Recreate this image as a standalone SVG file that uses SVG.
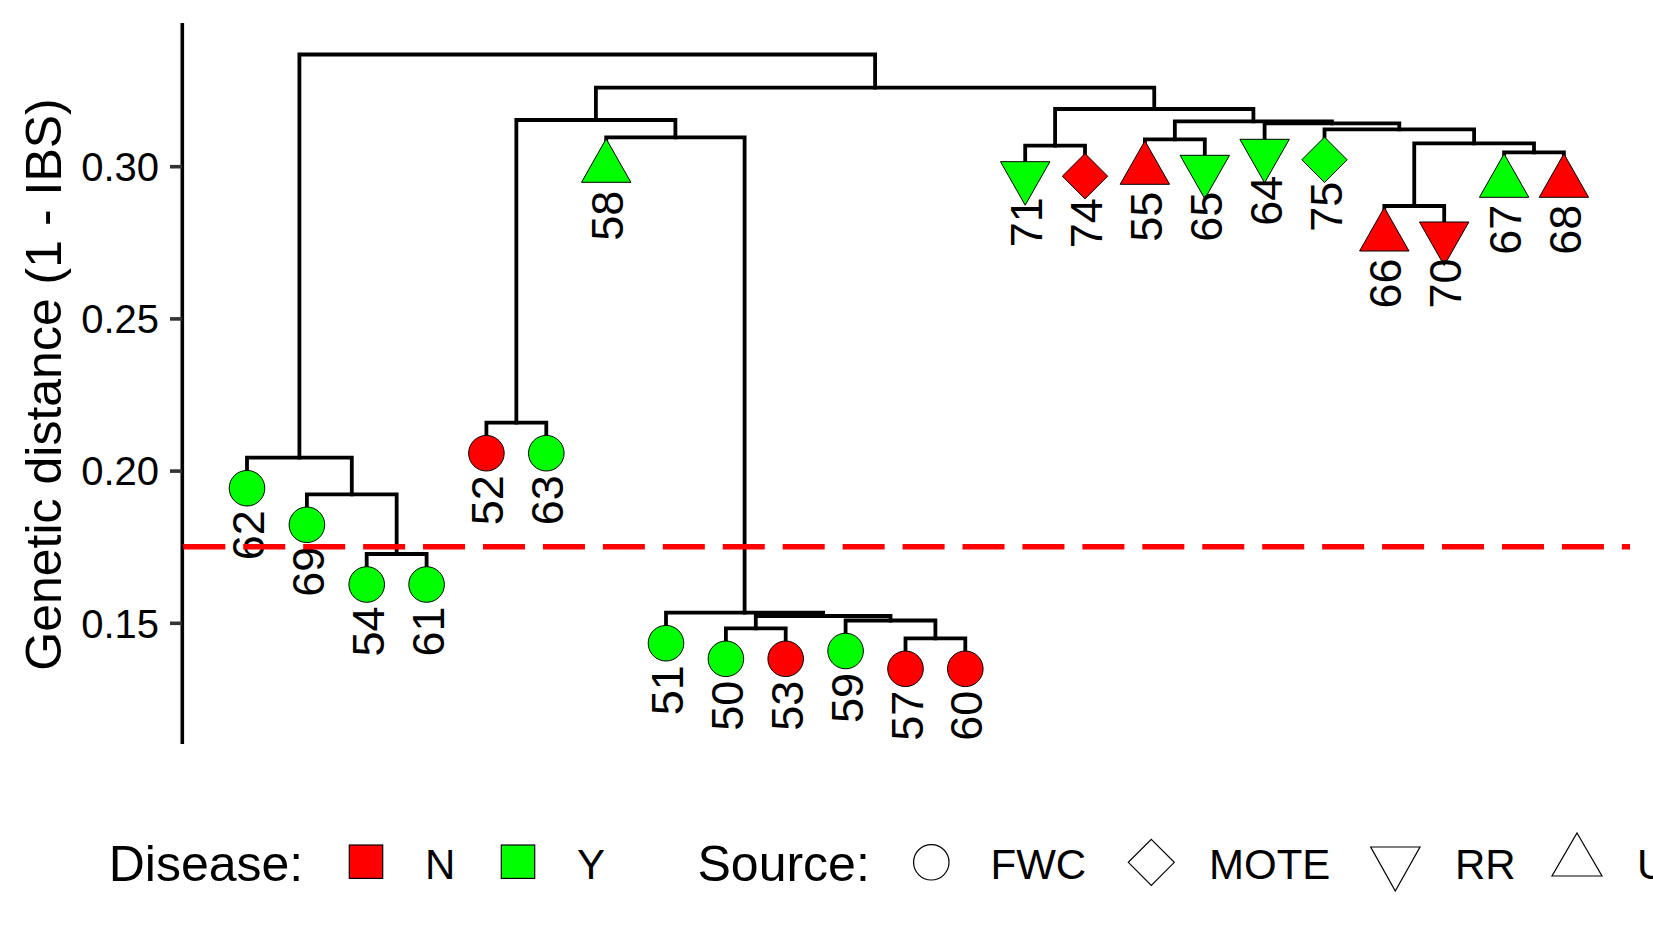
<svg xmlns="http://www.w3.org/2000/svg" xmlns:xlink="http://www.w3.org/1999/xlink" width="1653" height="944" viewBox="0 0 1653 944">
<style>
text{font-family:"Liberation Sans",Arial,sans-serif;fill:#000}
.br{fill:none;stroke:#000;stroke-width:3.8;stroke-linejoin:miter;stroke-linecap:square}
.lab{font-size:45px}
.tick{font-size:40px}
.ttl{font-size:50px}
.leg{font-size:42px}
.r{fill:#FF0000;stroke:#000;stroke-width:1}
.g{fill:#00FF00;stroke:#000;stroke-width:1}
.w{fill:#FFFFFF;stroke:#000;stroke-width:1.2}
</style>
<defs>
<circle id="c" r="17.8"/>
<polygon id="tu" points="0,-29 24.7,14.5 -24.7,14.5"/>
<polygon id="td" points="0,29 24.7,-14.5 -24.7,-14.5"/>
<polygon id="dm" points="0,-22.7 22.7,0 0,22.7 -22.7,0"/>
</defs>
<rect width="1653" height="944" fill="#fff"/>
<g id="axis">
<line x1="182.3" y1="23" x2="182.3" y2="744" stroke="#000" stroke-width="3.6"/>
<g stroke="#333" stroke-width="3.6">
<line x1="170" y1="166.7" x2="182" y2="166.7"/>
<line x1="170" y1="318.9" x2="182" y2="318.9"/>
<line x1="170" y1="471.1" x2="182" y2="471.1"/>
<line x1="170" y1="623.3" x2="182" y2="623.3"/>
</g>
<g class="tick" text-anchor="end">
<text class="tick" x="159" y="181">0.30</text>
<text class="tick" x="159" y="333.2">0.25</text>
<text class="tick" x="159" y="485.4">0.20</text>
<text class="tick" x="159" y="637.6">0.15</text>
</g>
<text class="ttl" text-anchor="middle" transform="translate(61,384.5) rotate(-90)">Genetic distance (1 - IBS)</text>
</g>
<g id="connectors" class="br">
<path d="M299.4 457.7 V54.5 H875.1 V87.7"/>
<path d="M247 488.2 V457.7 H351.8 V494.3"/>
<path d="M306.9 524.8 V494.3 H396.65 V554"/>
<path d="M366.7 584.5 V554 H426.6 V584.5"/>
<path d="M595.9 120 V87.7 H1154.25 V109"/>
<path d="M516.35 422.7 V120 H675.4 V137.3"/>
<path d="M486.4 453.2 V422.7 H546.3 V453.2"/>
<path d="M606.2 167.8 V137.3 H744.6 V612.7"/>
<path d="M666 643.2 V612.7 H823.15 V616"/>
<path d="M755.8 628.3 V616 H890.5 V620.5"/>
<path d="M725.9 658.8 V628.3 H785.7 V658.8"/>
<path d="M845.6 651 V620.5 H935.4 V638.3"/>
<path d="M905.5 668.8 V638.3 H965.3 V668.8"/>
<path d="M1055.1 145.7 V109 H1253.4 V121.3"/>
<path d="M1025.2 176.2 V145.7 H1085 V176.2"/>
<path d="M1174.85 139.3 V121.3 H1331.95 V123.3"/>
<path d="M1144.9 169.8 V139.3 H1204.8 V169.8"/>
<path d="M1264.6 153.8 V123.3 H1399.3 V129.3"/>
<path d="M1324.5 159.8 V129.3 H1474.1 V143.3"/>
<path d="M1414.25 206 V143.3 H1534 V152.3"/>
<path d="M1384.3 236.5 V206 H1444.2 V236.5"/>
<path d="M1504.1 182.8 V152.3 H1563.9 V182.8"/>
</g>
<g id="n62"><use xlink:href="#c" class="g" x="247" y="488.2"/><text class="lab" text-anchor="end" transform="translate(264,510.2) rotate(-90)">62</text></g>
<g id="n69"><use xlink:href="#c" class="g" x="306.9" y="524.8"/><text class="lab" text-anchor="end" transform="translate(323.9,546.8) rotate(-90)">69</text></g>
<g id="n54"><use xlink:href="#c" class="g" x="366.7" y="584.5"/><text class="lab" text-anchor="end" transform="translate(383.7,606.5) rotate(-90)">54</text></g>
<g id="n61"><use xlink:href="#c" class="g" x="426.6" y="584.5"/><text class="lab" text-anchor="end" transform="translate(443.6,606.5) rotate(-90)">61</text></g>
<g id="n52"><use xlink:href="#c" class="r" x="486.4" y="453.2"/><text class="lab" text-anchor="end" transform="translate(503.4,475.2) rotate(-90)">52</text></g>
<g id="n63"><use xlink:href="#c" class="g" x="546.3" y="453.2"/><text class="lab" text-anchor="end" transform="translate(563.3,475.2) rotate(-90)">63</text></g>
<g id="n58"><use xlink:href="#tu" class="g" x="606.2" y="167.8"/><text class="lab" text-anchor="end" transform="translate(623.2,190.8) rotate(-90)">58</text></g>
<g id="n51"><use xlink:href="#c" class="g" x="666" y="643.2"/><text class="lab" text-anchor="end" transform="translate(683,665.2) rotate(-90)">51</text></g>
<g id="n50"><use xlink:href="#c" class="g" x="725.9" y="658.8"/><text class="lab" text-anchor="end" transform="translate(742.9,680.8) rotate(-90)">50</text></g>
<g id="n53"><use xlink:href="#c" class="r" x="785.7" y="658.8"/><text class="lab" text-anchor="end" transform="translate(802.7,680.8) rotate(-90)">53</text></g>
<g id="n59"><use xlink:href="#c" class="g" x="845.6" y="651"/><text class="lab" text-anchor="end" transform="translate(862.6,673) rotate(-90)">59</text></g>
<g id="n57"><use xlink:href="#c" class="r" x="905.5" y="668.8"/><text class="lab" text-anchor="end" transform="translate(922.5,690.8) rotate(-90)">57</text></g>
<g id="n60"><use xlink:href="#c" class="r" x="965.3" y="668.8"/><text class="lab" text-anchor="end" transform="translate(982.3,690.8) rotate(-90)">60</text></g>
<g id="n71"><use xlink:href="#td" class="g" x="1025.2" y="176.2"/><text class="lab" text-anchor="end" transform="translate(1042.2,197.2) rotate(-90)">71</text></g>
<g id="n74"><use xlink:href="#dm" class="r" x="1085" y="176.2"/><text class="lab" text-anchor="end" transform="translate(1102,198.2) rotate(-90)">74</text></g>
<g id="n55"><use xlink:href="#tu" class="r" x="1144.9" y="169.8"/><text class="lab" text-anchor="end" transform="translate(1161.9,191.8) rotate(-90)">55</text></g>
<g id="n65"><use xlink:href="#td" class="g" x="1204.8" y="169.8"/><text class="lab" text-anchor="end" transform="translate(1221.8,191.8) rotate(-90)">65</text></g>
<g id="n64"><use xlink:href="#td" class="g" x="1264.6" y="153.8"/><text class="lab" text-anchor="end" transform="translate(1281.6,175.8) rotate(-90)">64</text></g>
<g id="n75"><use xlink:href="#dm" class="g" x="1324.5" y="159.8"/><text class="lab" text-anchor="end" transform="translate(1341.5,181.8) rotate(-90)">75</text></g>
<g id="n66"><use xlink:href="#tu" class="r" x="1384.3" y="236.5"/><text class="lab" text-anchor="end" transform="translate(1401.3,258.5) rotate(-90)">66</text></g>
<g id="n70"><use xlink:href="#td" class="r" x="1444.2" y="236.5"/><text class="lab" text-anchor="end" transform="translate(1461.2,258.5) rotate(-90)">70</text></g>
<g id="n67"><use xlink:href="#tu" class="g" x="1504.1" y="182.8"/><text class="lab" text-anchor="end" transform="translate(1521.1,204.8) rotate(-90)">67</text></g>
<g id="n68"><use xlink:href="#tu" class="r" x="1563.9" y="182.8"/><text class="lab" text-anchor="end" transform="translate(1580.9,204.8) rotate(-90)">68</text></g>
<g id="cutoff">
<line x1="183.3" y1="546.8" x2="1630" y2="546.8" stroke="#FF0000" stroke-width="5.6" stroke-dasharray="42 17.94"/>
</g>
<g id="legend">
<text class="ttl" x="108.7" y="881">Disease:</text>
<rect x="349.3" y="845" width="33.4" height="33.4" fill="#FF0000" stroke="#000" stroke-width="1.2"/>
<text class="leg" x="425" y="878.5">N</text>
<rect x="501.3" y="845" width="33.4" height="33.4" fill="#00FF00" stroke="#000" stroke-width="1.2"/>
<text class="leg" x="577" y="878.5">Y</text>
<text class="ttl" x="697.5" y="881">Source:</text>
<circle cx="931.3" cy="862.3" r="17.7" class="w"/>
<text class="leg" x="990.5" y="878.5">FWC</text>
<polygon points="1151.3,839.3 1174.3,862.3 1151.3,885.3 1128.3,862.3" class="w"/>
<text class="leg" x="1209" y="878.5">MOTE</text>
<polygon points="1370.7,847 1420,847 1395.3,891" class="w"/>
<text class="leg" x="1455" y="878.5">RR</text>
<polygon points="1577,833 1602,876 1552,876" class="w"/>
<text class="leg" x="1637" y="878.5">U</text>
</g>
</svg>
